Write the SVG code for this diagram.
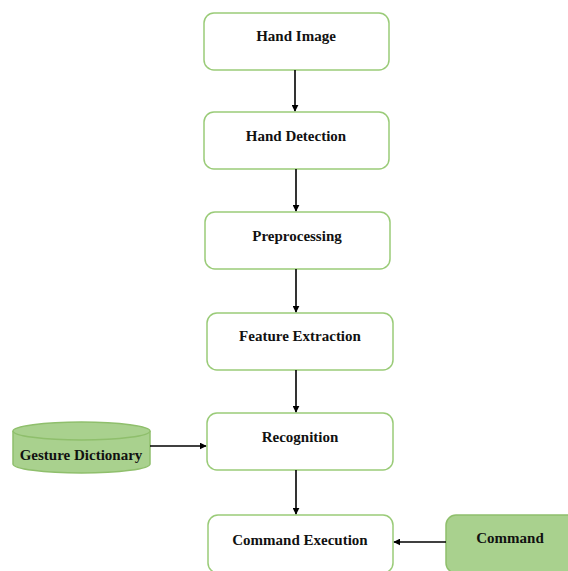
<svg xmlns="http://www.w3.org/2000/svg" width="568" height="571" viewBox="0 0 568 571">
<defs>
<marker id="ah" viewBox="0 0 10 10" refX="9" refY="5" markerWidth="7" markerHeight="7" markerUnits="userSpaceOnUse" orient="auto"><path d="M0,0 L10,5 L0,10 z" fill="#000"/></marker>
</defs>
<style>
.box{fill:#fff;stroke:#9acb78;stroke-width:1.5}
.fbox{fill:#a9d18e;stroke:#8fbf6c;stroke-width:1.5}
.t{font-family:"Liberation Serif","Times New Roman",serif;font-weight:bold;font-size:15px;fill:#111;text-anchor:middle}
.c{stroke:#000;stroke-width:1.6;fill:none;marker-end:url(#ah)}
</style>
<rect width="568" height="571" fill="#fff"/>
<g id="hand-image"><rect class="box" x="204" y="13" width="185" height="57" rx="10"/><text class="t" x="296" y="41">Hand Image</text></g>
<g id="hand-detection"><rect class="box" x="204" y="112" width="185" height="57" rx="10"/><text class="t" x="296" y="141">Hand Detection</text></g>
<g id="preprocessing"><rect class="box" x="205" y="212" width="185" height="57" rx="10"/><text class="t" x="297" y="241">Preprocessing</text></g>
<g id="feature-extraction"><rect class="box" x="207" y="313" width="186" height="57" rx="10"/><text class="t" x="300" y="341">Feature Extraction</text></g>
<g id="recognition"><rect class="box" x="207" y="413" width="186" height="57" rx="10"/><text class="t" x="300" y="442">Recognition</text></g>
<g id="command-execution"><rect class="box" x="208" y="515" width="185" height="58" rx="10"/><text class="t" x="300" y="545">Command Execution</text></g>
<g id="command"><rect class="fbox" x="446" y="515" width="140" height="58" rx="10"/><text class="t" x="510" y="543">Command</text></g>
<g id="gesture-dictionary">
<path class="fbox" d="M13,431 L13,464 A68.5,9 0 0 0 150,464 L150,431"/>
<ellipse class="fbox" cx="81.5" cy="431" rx="68.5" ry="9"/>
<text class="t" x="81" y="460">Gesture Dictionary</text>
</g>
<g id="connectors">
<line class="c" x1="295" y1="70" x2="295" y2="111"/>
<line class="c" x1="296" y1="169" x2="296" y2="211"/>
<line class="c" x1="296" y1="269" x2="296" y2="312"/>
<line class="c" x1="296" y1="370" x2="296" y2="412"/>
<line class="c" x1="296" y1="470" x2="296" y2="514"/>
<line class="c" x1="150" y1="446" x2="206" y2="446"/>
<line class="c" x1="446" y1="542" x2="394" y2="542"/>
</g>
</svg>
